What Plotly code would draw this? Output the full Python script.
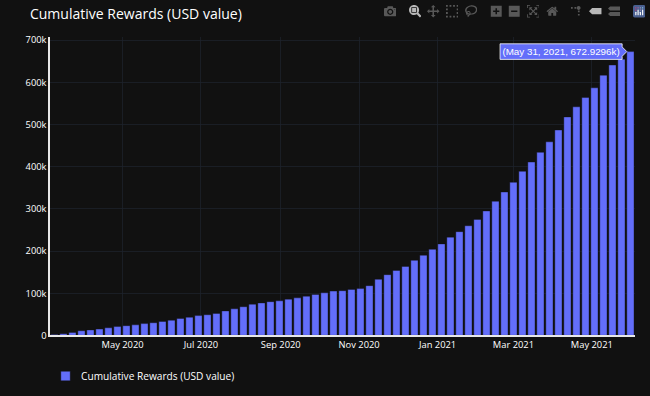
import plotly.graph_objects as go
import pandas as pd

series_name = "Cumulative Rewards (USD value)"
last_week = "2021-05-31"
values_k = [2, 4, 7, 11, 13, 15, 18, 21, 23, 25, 28, 30, 33, 36, 40, 43, 47, 49, 52, 58,
            63, 68, 74, 77, 80, 82, 86, 89, 93, 97, 101, 105, 106, 109, 111, 118, 133, 144, 154, 163.5,
            178, 190, 204, 217, 233, 246, 260, 275, 295, 318, 340, 363, 389, 411, 434, 459, 487, 518, 542, 564,
            587, 617, 641, 655, 672.9296]
dates = pd.date_range(end=last_week, periods=len(values_k), freq="7D")
values = [v * 1000 for v in values_k]

S = 0.78  # the page is shown at this zoom
fig = go.Figure(go.Bar(x=dates, y=values, name=series_name, showlegend=True,
                       marker_color="#636efa"))
fig.update_layout(
    template="plotly_dark", width=650 / S, height=396 / S,
    title=dict(text=series_name, x=0.046, y=0.965, xanchor="left", yanchor="middle",
               font=dict(size=18, color="#ffffff")),
    margin=dict(l=50 / S, r=15 / S, t=37 / S, b=61 / S, autoexpand=False),
    legend=dict(orientation="h", x=0, y=-0.097, font=dict(size=13)),
    font=dict(size=12, color="#ffffff"),
    hovermode="closest", hoverlabel=dict(font=dict(size=12.6, family="Liberation Sans")),
    paper_bgcolor="#111111", plot_bgcolor="#111111", bargap=0.2,
)
fig.update_xaxes(dtick="M2", tick0="2020-05-01", tickformat="%b %Y", hoverformat="%b %d, %Y",
                 gridcolor="#1d232c", showline=True, linecolor="#e8e8e8", linewidth=2)
fig.update_yaxes(gridcolor="#1d232c", showline=True, linecolor="#e8e8e8", linewidth=2,
                 zeroline=False, dtick=100000)

post = """
document.body.style.margin='0';
document.body.style.overflow='hidden';
document.body.style.background='#111111';
var gd=document.getElementsByClassName('plotly-graph-div')[0];
Plotly.Fx.hover(gd,[{curveNumber:0,pointNumber:%d}]);
document.querySelectorAll('.modebar-btn--logo rect').forEach(function(r,i){if(i==0){r.style.fill='#4a6090';}});
var mb=document.querySelector('.modebar');
if(mb){mb.style.top='4px';}
document.body.style.zoom='%s';
""" % (len(values) - 1, S)
fig.write_html("out.html", post_script=post, config=dict(
    displayModeBar=True,
    modeBarButtons=[["toImage"], ["zoom2d", "pan2d", "select2d", "lasso2d"],
                    ["zoomIn2d", "zoomOut2d", "autoScale2d", "resetScale2d"],
                    ["toggleSpikelines", "hoverClosestCartesian", "hoverCompareCartesian"]]))
